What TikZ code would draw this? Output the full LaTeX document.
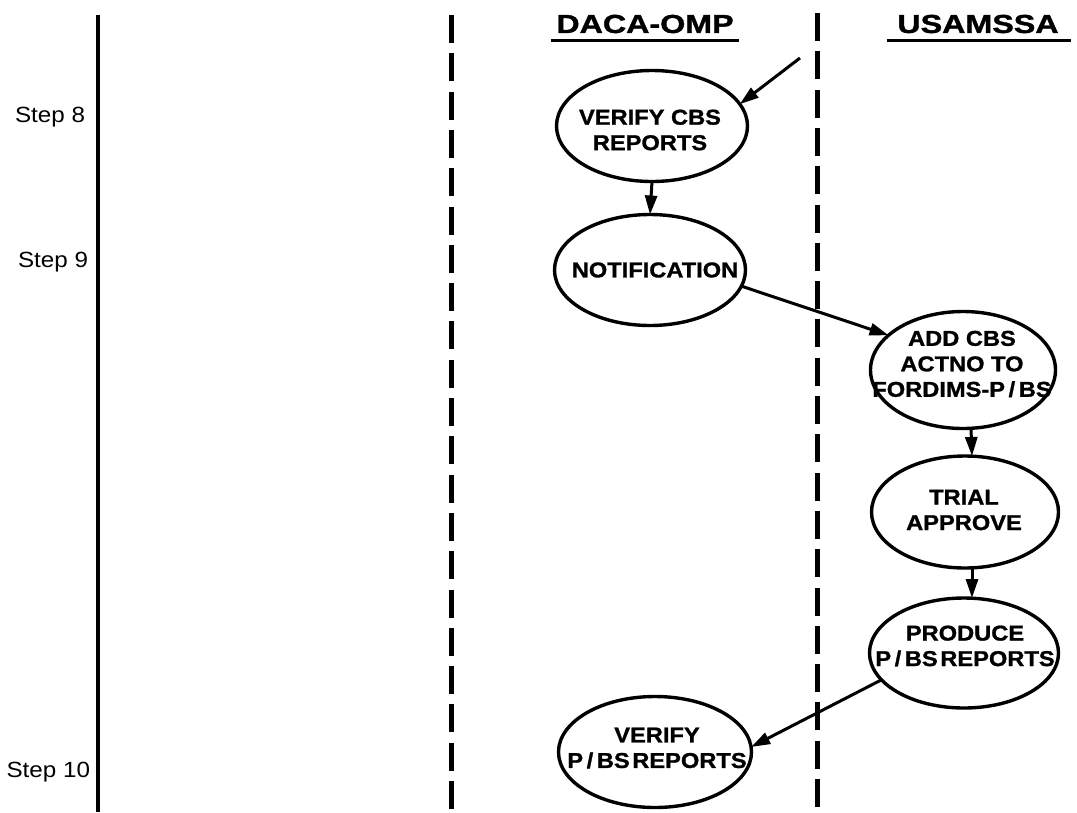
\documentclass[tikz,border=0pt]{standalone}
\usepackage{fontspec}
\newfontfamily\flowfont[FakeStretch=1.1,BoldFeatures={FakeBold=1.2}]{Liberation Sans}
\newfontfamily\headfont[FakeStretch=1.24,BoldFeatures={FakeBold=1.4}]{Liberation Sans}
\usetikzlibrary{arrows.meta,shapes.geometric}
\begin{document}
\begin{tikzpicture}[x=1pt,y=-1pt,
  every node/.style={inner sep=0pt,outer sep=0pt},
  proc/.style 2 args={draw,ellipse,line width=3.4pt,minimum width=#1pt,minimum height=#2pt},
  lbl/.style={font=\flowfont\bfseries\fontsize{21.5}{25.5}\selectfont,align=center},
  head/.style={font=\headfont\bfseries\fontsize{26}{30}\selectfont},
  steplbl/.style={font=\flowfont\fontsize{22}{26}\selectfont,anchor=base east},
  flow/.style={line width=3pt,-{Triangle[length=19pt,width=12pt]}},
  lane/.style={line width=5pt,dash pattern=on 28pt off 10.3pt},
  rule/.style={line width=3.2pt}]
\useasboundingbox (0,0) rectangle (1077,812);

% swimlane borders
\coordinate (axisTop) at (98,15);
\coordinate (axisBot) at (98,812);
\coordinate (laneAtop) at (451,15);
\coordinate (laneAbot) at (451,812);
\coordinate (laneBtop) at (817,13);
\coordinate (laneBbot) at (817,812);
\draw[rule] (axisTop) -- (axisBot);
\draw[lane] (laneAtop) -- (laneAbot);
\draw[lane] (laneBtop) -- (laneBbot);

% lane headings
\node[head] (daca) at (645,24) {DACA-OMP};
\node[head] (usa) at (978,24) {USAMSSA};
\draw[rule] ([shift={(-5,7)}]daca.south west) -- ([shift={(5,7)}]daca.south east);
\draw[rule] ([shift={(-10,7)}]usa.south west) -- ([shift={(12,7)}]usa.south east);

% step markers
\node[steplbl] (s8) at (85,122) {Step 8};
\node[steplbl] (s9) at (88,267) {Step 9};
\node[steplbl] (s10) at (90,777) {Step 10};

% process ellipses
\node[proc={191}{111}] (verify) at (652,126) {};
\node[proc={191}{111}] (notif) at (650,270) {};
\node[proc={185}{117}] (add) at (963,370) {};
\node[proc={187}{112}] (trial) at (965,512) {};
\node[proc={189}{110}] (produce) at (964,653) {};
\node[proc={193}{111}] (vpbs) at (655,752) {};

% process texts
\node[lbl] (verifyT) at (650,130) {VERIFY CBS\\REPORTS};
\node[lbl] (notifT) at (655,270) {NOTIFICATION};
\node[lbl] (addT) at (962,364) {ADD CBS\\ACTNO TO\\FORDIMS-P\,/\,BS};
\node[lbl] (trialT) at (964,510) {TRIAL\\APPROVE};
\node[lbl] (produceT) at (965,646) {PRODUCE\\{\spaceskip=0.12em\relax P\,/\,BS REPORTS}};
\node[lbl] (vpbsT) at (657,748) {VERIFY\\{\spaceskip=0.12em\relax P\,/\,BS REPORTS}};

% flow connectors
\coordinate (src) at (800,58);
\draw[flow] (src) -- (verify.14);
\draw[flow] (verify.south) -- (notif.north);
\draw[flow] (notif.-10) -- (add.155);
\draw[flow] ([xshift=8pt]add.south) -- ([xshift=7pt]trial.north);
\draw[flow] ([xshift=7pt]trial.south) -- ([xshift=8pt]produce.north);
\draw[flow] (produce.198) -- (vpbs.3);
\end{tikzpicture}
\end{document}
